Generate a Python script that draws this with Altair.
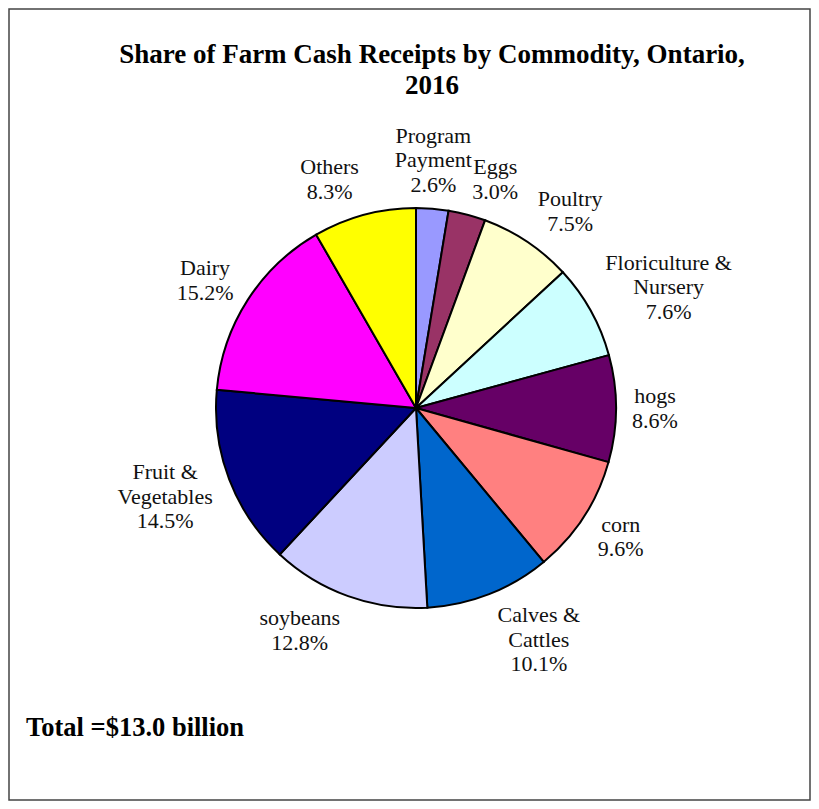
import math
import altair as alt
import pandas as pd

# ---- data ----
categories = ["Program Payment", "Eggs", "Poultry", "Floriculture & Nursery", "hogs",
              "corn", "Calves & Cattles", "soybeans", "Fruit & Vegetables", "Dairy", "Others"]
label_names = ["Program\nPayment", "Eggs", "Poultry", "Floriculture &\nNursery", "hogs",
               "corn", "Calves &\nCattles", "soybeans", "Fruit &\nVegetables", "Dairy", "Others"]
shares = [2.6, 3.0, 7.5, 7.6, 8.6, 9.6, 10.1, 12.8, 14.5, 15.2, 8.3]
colors = ["#9999FF", "#993366", "#FFFFCC", "#CCFFFF", "#660066", "#FF8080",
          "#0066CC", "#CCCCFF", "#000080", "#FF00FF", "#FFFF00"]
title_lines = ["Share of Farm Cash Receipts by Commodity, Ontario,", "2016"]
total_text = "Total =$13.0 billion"

# ---- layout constants ----
R = 200
GAP = 12
CX, CY = 407, 399
FONT = "Liberation Serif"
LABEL_SIZE = 22
LINE_H = 24.5

# approximate serif glyph widths (em) used to size label boxes
_W = {"i": .278, "l": .278, "t": .278, "j": .278, "r": .333, "f": .333, "m": .778,
      "w": .722, "e": .444, "a": .444, "c": .444, "s": .389, "%": .833, "&": .778,
      " ": .25, ".": .25, "F": .556, "P": .556, "E": .611, "C": .667, "D": .722,
      "O": .722, "V": .722}


def text_width(s, size):
    return sum(_W.get(ch, .5) for ch in s) * size


df = pd.DataFrame({"cat": categories, "share": shares, "order": list(range(len(categories)))})
df["label"] = [f"{n}\n{s:.1f}%" for n, s in zip(label_names, shares)]

# label placement: box pushed outside the rim along each slice's mid-angle,
# then converted to polar coordinates of the first text line's anchor
total = sum(shares)
cum = 0.0
thetas, radii = [], []
for lab, s in zip(df["label"], shares):
    a = 2 * math.pi * (cum + s / 2) / total
    cum += s
    lines = lab.split("\n")
    hw = max(text_width(l, LABEL_SIZE) for l in lines) / 2
    hh = len(lines) * LINE_H / 2
    sa, ca = math.sin(a), math.cos(a)
    f = math.copysign(min(1.0, max(0.0, (abs(sa) - 0.1) * 6)), sa)
    px, py = (R + GAP) * sa, -(R + GAP) * ca
    cx = px + (hw + 4) * f
    cy = py - hh * ca
    ay = cy - (len(lines) - 1) * LINE_H / 2  # first line anchor
    thetas.append(math.atan2(cx, -ay))
    radii.append(math.hypot(cx, ay))
df["lt"] = thetas
df["lr"] = radii

arcs = alt.Chart(df).mark_arc(outerRadius=R, stroke="black", strokeWidth=2).encode(
    theta=alt.Theta("share:Q", stack=True),
    order=alt.Order("order:Q"),
    color=alt.Color("cat:N", scale=alt.Scale(domain=categories, range=colors), legend=None),
    x=alt.value(CX),
    y=alt.value(CY),
)

labels = alt.Chart(df).mark_text(
    font=FONT, fontSize=LABEL_SIZE, lineBreak="\n", lineHeight=LINE_H,
    align="center", baseline="middle", color="#111111"
).encode(
    theta=alt.Theta("lt:Q", scale=None, stack=False),
    radius=alt.Radius("lr:Q", scale=None),
    text="label:N",
    x=alt.value(CX),
    y=alt.value(CY),
)

title_df = pd.DataFrame({"t": ["\n".join(title_lines)]})
title = alt.Chart(title_df).mark_text(
    font=FONT, fontSize=27, fontWeight="bold", lineBreak="\n", lineHeight=31,
    align="center", baseline="alphabetic", color="black"
).encode(text="t:N", x=alt.value(423), y=alt.value(54))

total_df = pd.DataFrame({"t": [total_text]})
total_mark = alt.Chart(total_df).mark_text(
    font=FONT, fontSize=26.5, fontWeight="bold",
    align="left", baseline="alphabetic", color="black"
).encode(text="t:N", x=alt.value(17), y=alt.value(727))

chart = alt.layer(arcs, labels, title, total_mark).properties(
    width=801, height=791,
    padding={"left": 1, "top": 1, "right": 1, "bottom": 1},
    autosize=alt.AutoSizeParams(type="none"),
    background="white",
).configure_view(stroke="#444444", strokeWidth=1.5)

chart.save("out.html", embed_options={"renderer": "svg", "actions": False})
